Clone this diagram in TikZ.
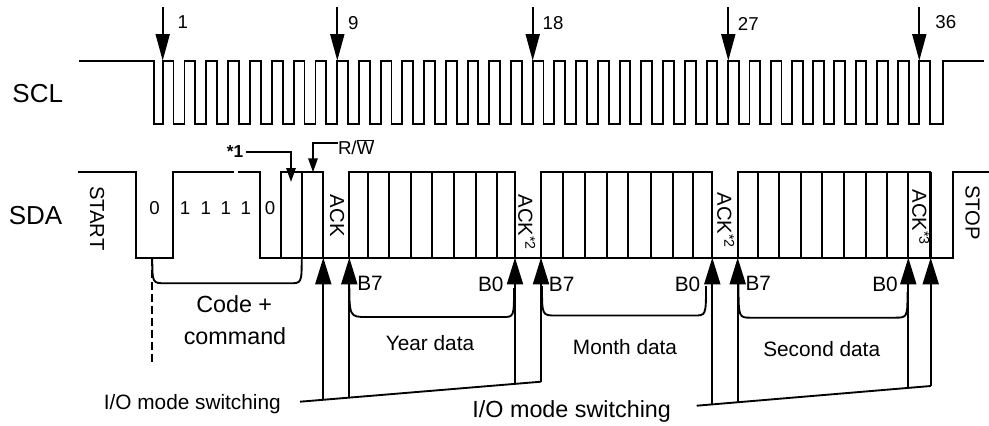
\documentclass[tikz,border=0pt]{standalone}
\usepackage{fontspec}
\setmainfont{Liberation Sans}
\usetikzlibrary{arrows.meta}
\begin{document}
\begin{tikzpicture}[x=0.75pt,y=-0.75pt,line width=1.4pt,line join=miter,
  wave/.style={line width=1.4pt},
  toparrow/.style={line width=1.4pt,-{Triangle[length=20pt,width=10.5pt]}},
  uparrow/.style={line width=1.4pt,-{Triangle[length=20pt,width=12pt]}},
  smallarrow/.style={line width=1.4pt,-{Triangle[length=10.5pt,width=7pt]}},
  txt/.style={inner sep=0pt,outer sep=0pt},
  siglbl/.style={txt,font=\fontsize{19.5}{22}\selectfont},
  numlbl/.style={txt,font=\fontsize{14}{16}\selectfont},
  bitlbl/.style={txt,font=\fontsize{14}{16}\selectfont},
  acklbl/.style={txt,rotate=-90,font=\fontsize{15.2}{17}\selectfont},
  midlbl/.style={txt,font=\fontsize{15.6}{18}\selectfont},
  biglbl/.style={txt,font=\fontsize{17.5}{20}\selectfont},
  bracket/.style={line width=1.4pt},
  dashline/.style={line width=1.4pt,dash pattern=on 6pt off 3pt}]
\useasboundingbox (0,0) rectangle (989,425);

% ---------- signal names ----------
\node[siglbl] (scl) at (37.7,94) {SCL};
\node[siglbl] (sda) at (35.5,215.8) {SDA};

% ---------- SCL waveform ----------
\draw[wave] (79,60.7) -- (154.3,60.7) -- (154.3,124.3)
  \foreach \x in {162.7,184.5,206.4,228.2,250.0,271.8,293.7,315.5,337.3,
                  359.0,380.7,402.4,424.1,445.8,467.6,489.3,511.0,532.7,
                  554.4,576.2,597.9,619.6,641.3,663.1,684.8,706.6,728.3,
                  749.5,770.7,792.0,813.2,834.4,855.6,876.9,898.1,919.3}
  { -- (\x,124.3) -- (\x,60.7) -- (\x+10.8,60.7) -- (\x+10.8,124.3) }
  -- (943.3,124.3) -- (943.3,60.7) -- (984,60.7);

% ---------- clock markers ----------
\coordinate (c1s) at (162.7,7);  \coordinate (c1t) at (162.7,60.7);
\coordinate (c9s) at (337.3,7);  \coordinate (c9t) at (337.3,60.7);
\coordinate (c18s) at (532.7,7); \coordinate (c18t) at (532.7,60.7);
\coordinate (c27s) at (728.3,7); \coordinate (c27t) at (728.3,60.7);
\coordinate (c36s) at (919.3,7); \coordinate (c36t) at (919.3,60.7);
\draw[toparrow] (c1s) -- (c1t);
\draw[toparrow] (c9s) -- (c9t);
\draw[toparrow] (c18s) -- (c18t);
\draw[toparrow] (c27s) -- (c27t);
\draw[toparrow] (c36s) -- (c36t);
\node[numlbl] (n1) at (182.7,22.5) {1};
\node[numlbl] (n9) at (353.3,23.3) {9};
\node[numlbl] (n18) at (553,23.3) {18};
\node[numlbl] (n27) at (748.3,24.2) {27};
\node[numlbl] (n36) at (945.8,21.7) {36};

% ---------- SDA waveform ----------
\draw[wave] (77.7,172.3) -- (136,172.3) -- (136,257.7) -- (172.7,257.7)
  -- (172.7,172.3) -- (233.5,172.3);
\draw[wave] (238,172.3) -- (260,172.3) -- (260,257.7) -- (953.3,257.7)
  -- (953.3,172.3) -- (989,172.3);
% bit boxes
\draw[wave] (281,257.7) -- (281,172.3) -- (323.3,172.3) -- (323.3,257.7);
\draw[wave] (302.3,172.3) -- (302.3,257.7);
\draw[wave] (349.3,257.7) -- (349.3,172.3) -- (515,172.3) -- (515,257.7);
\foreach \x in {368.3,389,411,432.3,454,475.7,497.3}
  \draw[wave] (\x,172.3) -- (\x,257.7);
\draw[wave] (541,257.7) -- (541,172.3) -- (712.3,172.3) -- (712.3,257.7);
\foreach \x in {563.3,585,606.7,628.3,650.7,672.7,693.3}
  \draw[wave] (\x,172.3) -- (\x,257.7);
\draw[wave] (737.7,257.7) -- (737.7,172.3) -- (930.7,172.3);
\foreach \x in {758.3,779.3,801,822.3,844.3,865.7,886.7,908.3}
  \draw[wave] (\x,172.3) -- (\x,257.7);
\draw[line width=2.2pt] (930.7,172.3) -- (930.7,257.7);

% ---------- SDA labels ----------
\node[acklbl] (start) at (97,218.3) {START};
\node[bitlbl] (b0a) at (154.5,208.3) {0};
\node[bitlbl] (b1a) at (185,208.3) {1};
\node[bitlbl] (b1b) at (205.7,208.3) {1};
\node[bitlbl] (b1c) at (225.7,208.3) {1};
\node[bitlbl] (b1d) at (245.7,208.3) {1};
\node[bitlbl] (b0b) at (270,208.3) {0};
\node[acklbl] (ack1) at (337,215.8) {ACK};
\node[acklbl] (ack2) at (526.7,222.5) {ACK\textsuperscript{*2}};
\node[acklbl] (ack3) at (725.8,220.5) {ACK\textsuperscript{*2}};
\node[acklbl] (ack4) at (920.8,217.5) {ACK\textsuperscript{*3}};
\node[acklbl] (stop) at (972.5,212.5) {STOP};

% ---------- *1 and R/W pointers ----------
\node[txt,font=\fontsize{13}{15}\selectfont\bfseries] (star1) at (235,152) {*1};
\coordinate (s1k) at (291,152); \coordinate (s1t) at (291,182);
\draw[smallarrow] (star1.east) ++(3,0) -- (s1k) -- (s1t);
\node[txt,font=\fontsize{14}{16}\selectfont,anchor=west] (rw) at (338,147)
  {R/$\overline{\mbox{W}}$};
\coordinate (rwk) at (313,143.3); \coordinate (rwt) at (313,172.3);
\draw[smallarrow] (rw.west |- rwk) -- (rwk) -- (rwt);

% ---------- code + command ----------
\coordinate (dtop) at (152.3,257.7); \coordinate (dbot) at (152.3,361.7);
\draw[dashline] (dtop) -- (dbot);
\draw[bracket] (152.3,258) .. controls (152.3,283.3) .. (166,283.3)
  -- (289,283.3) .. controls (301.7,283.3) .. (301.7,258);
\node[biglbl] (code) at (234.2,304.2) {Code +};
\node[biglbl] (cmd) at (235,336) {command};

% ---------- data brackets ----------
\draw[bracket] (349.3,280) .. controls (349.3,317) .. (367,317)
  -- (503,317) .. controls (514,317) .. (514,288);
\draw[bracket] (542,286) .. controls (542,315.5) .. (556,315.5)
  -- (694,315.5) .. controls (706,315.5) .. (706,286);
\draw[bracket] (738.5,283) .. controls (738.5,317.7) .. (751,317.7)
  -- (894,317.7) .. controls (907.5,317.7) .. (907.5,292);
\node[midlbl] (b7a) at (370,283) {B7};
\node[midlbl] (b0c) at (490.8,284) {B0};
\node[midlbl] (b7b) at (561.7,284) {B7};
\node[midlbl] (b0d) at (687.5,284) {B0};
\node[midlbl] (b7c) at (758.3,283.3) {B7};
\node[midlbl] (b0e) at (885,284) {B0};
\node[midlbl] (year) at (430,343.5) {Year data};
\node[midlbl] (month) at (625,347.5) {Month data};
\node[midlbl] (second) at (821.7,349) {Second data};

% ---------- I/O mode switching ----------
\node[midlbl] (io1) at (192.3,404) {I/O mode switching};
\node[biglbl] (io2) at (571.7,411) {I/O mode switching};
\coordinate (l1s) at (300,401.7); \coordinate (l1e) at (541,381.7);
\coordinate (l2s) at (696.7,405.7); \coordinate (l2e) at (930.7,386);
\draw[wave] (l1s) -- (l1e);
\draw[wave] (l2s) -- (l2e);
\coordinate (u1) at (323.3,399.8); \coordinate (v1) at (323.3,257.7);
\coordinate (u2) at (349.3,397.6); \coordinate (v2) at (349.3,257.7);
\coordinate (u3) at (515,383.9);   \coordinate (v3) at (515,257.7);
\coordinate (u4) at (541,381.7);   \coordinate (v4) at (541,257.7);
\coordinate (u5) at (712.3,404.4); \coordinate (v5) at (712.3,257.7);
\coordinate (u6) at (737.7,402.2); \coordinate (v6) at (737.7,257.7);
\coordinate (u7) at (908.3,387.9); \coordinate (v7) at (908.3,257.7);
\coordinate (u8) at (930.7,386);   \coordinate (v8) at (930.7,257.7);
\foreach \i in {1,...,8} \draw[uparrow] (u\i) -- (v\i);
\end{tikzpicture}
\end{document}
